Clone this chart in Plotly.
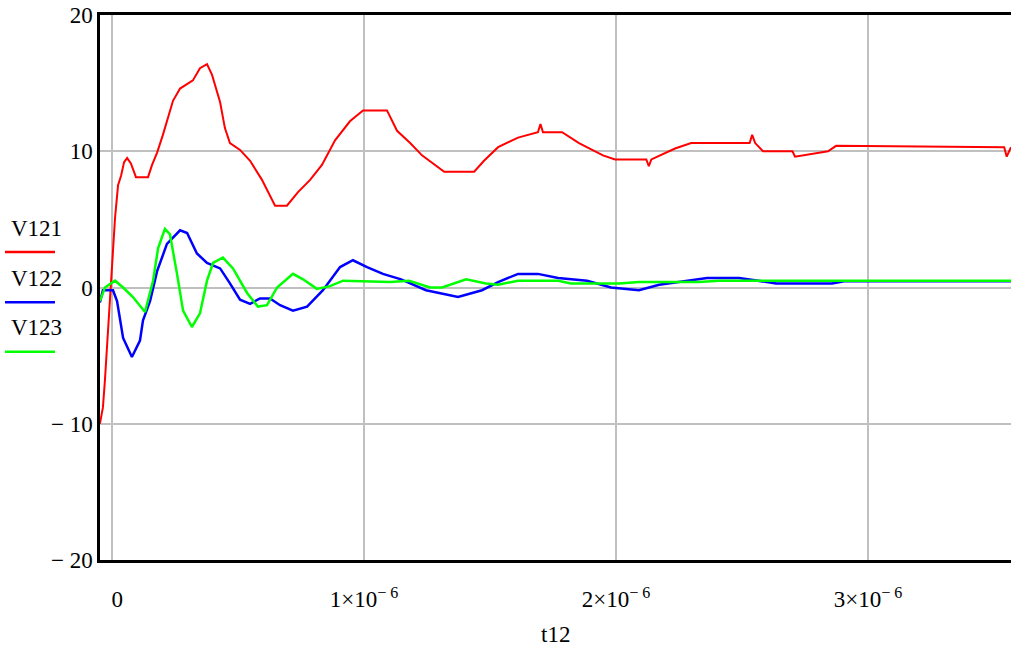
import plotly.graph_objects as go

# time in microseconds
t_v121 = [-0.048, -0.036, -0.028, -0.020, -0.012, -0.004, 0.004, 0.012, 0.024, 0.036,
          0.048, 0.060, 0.075, 0.095, 0.143, 0.159, 0.179, 0.202, 0.222, 0.242,
          0.270, 0.321, 0.349, 0.377, 0.397, 0.429, 0.448, 0.468, 0.508, 0.548,
          0.595, 0.635, 0.647, 0.694, 0.738, 0.786, 0.833, 0.885, 0.944, 0.996,
          1.091, 1.131, 1.183, 1.230, 1.318, 1.437, 1.476, 1.532, 1.611, 1.690,
          1.700, 1.710, 1.786, 1.853, 1.948, 1.996, 2.120, 2.130, 2.140, 2.234,
          2.298, 2.530, 2.540, 2.552, 2.583, 2.700, 2.710, 2.841, 2.873, 3.540,
          3.550, 3.567]
v121 = [-10.0, -8.8, -6.8, -4.6, -2.4, 0.5, 2.7, 5.1, 7.5, 8.2,
        9.2, 9.5, 9.1, 8.1, 8.1, 9.0, 9.9, 11.2, 12.5, 13.7,
        14.6, 15.2, 16.1, 16.4, 15.6, 13.6, 11.7, 10.6, 10.1, 9.3,
        7.9, 6.4, 6.0, 6.0, 7.0, 7.9, 9.0, 10.8, 12.2, 13.0,
        13.0, 11.5, 10.6, 9.7, 8.5, 8.5, 9.3, 10.3, 11.0, 11.4,
        12.0, 11.4, 11.4, 10.6, 9.7, 9.4, 9.4, 8.9, 9.4, 10.2,
        10.6, 10.6, 11.2, 10.6, 10.0, 10.0, 9.6, 10.0, 10.4, 10.3,
        9.6, 10.3]

t_v122 = [-0.048, -0.036, 0.004, 0.020, 0.044, 0.079, 0.111, 0.123, 0.151, 0.179,
          0.218, 0.270, 0.298, 0.337, 0.377, 0.429, 0.468, 0.508, 0.548, 0.587,
          0.627, 0.667, 0.718, 0.774, 0.837, 0.905, 0.956, 1.012, 1.075, 1.147,
          1.246, 1.373, 1.468, 1.532, 1.611, 1.690, 1.770, 1.885, 1.980, 2.091,
          2.171, 2.250, 2.361, 2.488, 2.635, 2.857, 2.905, 3.567]
v122 = [-1.1, -0.2, -0.2, -1.0, -3.7, -5.1, -3.9, -2.4, -1.0, 1.2,
        3.2, 4.2, 4.0, 2.5, 1.8, 1.4, 0.3, -0.9, -1.2, -0.8,
        -0.8, -1.3, -1.7, -1.4, -0.2, 1.5, 2.0, 1.5, 1.0, 0.6,
        -0.2, -0.7, -0.2, 0.4, 1.0, 1.0, 0.7, 0.5, 0.0, -0.2,
        0.2, 0.4, 0.7, 0.7, 0.3, 0.3, 0.45, 0.45]

t_v123 = [-0.048, -0.028, 0.012, 0.044, 0.083, 0.131, 0.163, 0.183, 0.210, 0.230,
          0.258, 0.282, 0.317, 0.349, 0.377, 0.401, 0.440, 0.480, 0.536, 0.579,
          0.615, 0.655, 0.718, 0.758, 0.813, 0.865, 0.917, 1.103, 1.179, 1.262,
          1.310, 1.405, 1.484, 1.532, 1.611, 1.770, 1.821, 2.012, 2.091, 2.329,
          2.409, 3.567]
v123 = [-1.0, 0.0, 0.5, 0.0, -0.7, -1.8, 0.5, 2.9, 4.3, 3.9,
        1.0, -1.7, -2.9, -1.9, 0.5, 1.8, 2.2, 1.4, -0.4, -1.4,
        -1.3, 0.0, 1.0, 0.6, -0.1, 0.1, 0.5, 0.4, 0.5, 0.0,
        0.0, 0.6, 0.3, 0.2, 0.5, 0.5, 0.3, 0.3, 0.4, 0.4,
        0.5, 0.5]

x_ticks = [0, 1e-6, 2e-6, 3e-6]
x_labels = ["\u2009 0", "1×10<sup>− 6</sup>", "2×10<sup>− 6</sup>", "3×10<sup>− 6</sup>"]
y_ticks = [-20, -10, 0, 10, 20]
y_labels = ["− 20", "− 10", "0", "10", "20"]

names = ["V121", "V122", "V123"]
colors = ["#ff0000", "#0000ff", "#00ff00"]

fig = go.Figure()
for name, ts, vs, c, w in [("V121", t_v121, v121, colors[0], 2),
                           ("V122", t_v122, v122, colors[1], 2.5),
                           ("V123", t_v123, v123, colors[2], 2.5)]:
    fig.add_trace(go.Scatter(x=[t * 1e-6 for t in ts], y=vs, mode="lines", name=name,
                             line=dict(color=c, width=w), showlegend=False))

font = dict(family="Liberation Serif", size=23, color="black")
legend_font = dict(family="Liberation Serif", size=23, color="black")

fig.update_xaxes(range=[-0.0476e-6, 3.567e-6], tickvals=x_ticks, ticktext=x_labels,
                 showgrid=True, gridcolor="#c0c0c0", gridwidth=2, zeroline=False,
                 showline=True, linecolor="black", linewidth=2.5, mirror=True,
                 ticks="", ticklabelstandoff=17, tickfont=font)
fig.update_yaxes(range=[-20, 20], tickvals=y_ticks, ticktext=y_labels,
                 showgrid=True, gridcolor="#c0c0c0", gridwidth=2, zeroline=False,
                 showline=True, linecolor="black", linewidth=2.5,
                 ticks="", ticklabelstandoff=0, tickfont=font)

# legend drawn on the left, name above a short colored line
legend_y = [0.609, 0.517, 0.426]
for name, c, yy in zip(names, colors, legend_y):
    fig.add_annotation(text=name, xref="paper", yref="paper", x=-0.1, y=yy,
                       xanchor="left", yanchor="middle", showarrow=False, font=legend_font)
    fig.add_shape(type="line", xref="paper", yref="paper", x0=-0.1043, x1=-0.0494,
                  y0=yy - 0.044, y1=yy - 0.044, line=dict(color=c, width=2.5))

fig.add_annotation(text="t12", xref="paper", yref="paper", x=0.5, y=-0.1376,
                   xanchor="center", yanchor="middle", showarrow=False, font=font)

fig.update_layout(width=1011, height=646, margin=dict(l=100, r=0, t=15, b=86),
                  plot_bgcolor="white", paper_bgcolor="white", font=font)

fig.write_html("out.html", config={"displayModeBar": False},
               post_script="document.body.style.margin='0';")
